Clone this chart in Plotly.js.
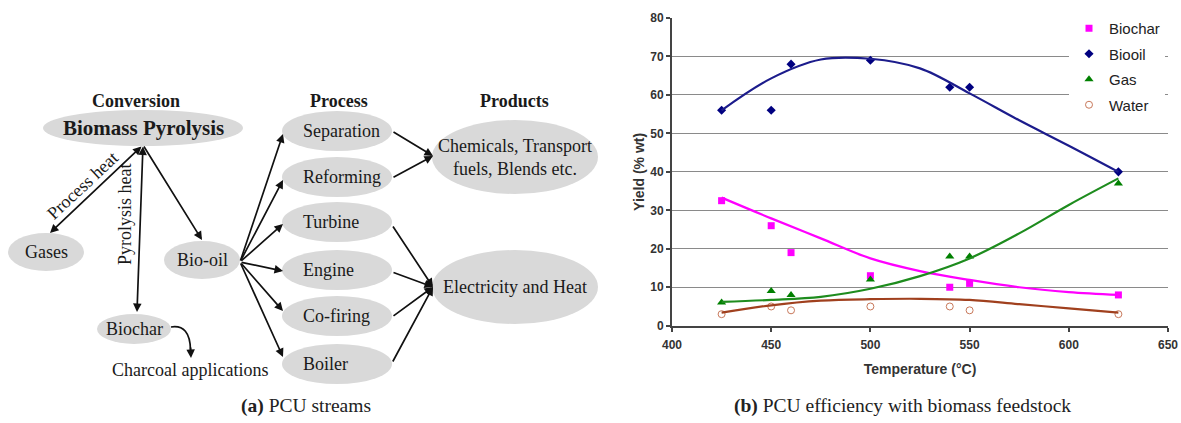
<!DOCTYPE html>
<html><head><meta charset="utf-8">
<script src="https://cdn.plot.ly/plotly-3.0.1.min.js"></script>
<style>html,body{margin:0;padding:0;background:#fff;} #chart{width:1181px;height:423px;}</style>
</head><body><div id="chart"></div>
<script>
// ---------- (b) chart data ----------
const temperature = [425, 450, 460, 500, 540, 550, 625];
const biocharYield = [32.5, 26, 19, 13, 10, 11, 8];
const biooilYield  = [56, 56, 68, 69, 62, 62, 40];
const gasYield     = [6, 9, 8, 12, 18, 18, 37];
const waterYield   = [3, 5, 4, 5, 5, 4, 3];
// trendlines
const trendTemperature = [425, 450, 475, 500, 525, 550, 575, 600, 625];
const biocharTrend = [33.3, 27.9, 22.7, 17.5, 14.2, 11.9, 10.0, 8.75, 8.0];
const biooilTrend  = [56, 64.3, 69.2, 69.4, 66.9, 60.4, 53.4, 46.8, 40];
const gasTrend     = [6.2, 6.7, 7.5, 9.6, 12.9, 17.5, 24.0, 31.4, 38.3];
const waterTrend   = [3.4, 5.3, 6.5, 6.9, 7.0, 6.7, 5.6, 4.5, 3.4];
const seriesNames = ['Biochar', 'Biooil', 'Gas', 'Water'];
const xTickValues = [400, 450, 500, 550, 600, 650];
const yTickValues = [0, 10, 20, 30, 40, 50, 60, 70, 80];
const xAxisTitle = 'Temperature (°C)';
const yAxisTitle = 'Yield (% wt)';

// ---------- (a) diagram labels ----------
const headerLabels = ['Conversion', 'Process', 'Products'];
const conversionLabel = 'Biomass Pyrolysis';
const streamLabels = ['Gases', 'Bio-oil', 'Biochar'];
const heatLabels = ['Process heat', 'Pyrolysis heat'];
const processLabels = ['Separation', 'Reforming', 'Turbine', 'Engine', 'Co-firing', 'Boiler'];
const productLabels = ['Chemicals, Transport<br>fuels, Blends etc.', 'Electricity and Heat'];
const charcoalLabel = 'Charcoal applications';
const captionLabels = ['<b>(a)</b> PCU streams', '<b>(b)</b> PCU efficiency with biomass feedstock'];

// ---------- diagram geometry (pixel space) ----------
const W = 1181, H = 423;
const geo = {
  headers: [[136, 101], [339, 101], [514, 101]],
  conv: {cx: 143, cy: 128, rx: 100, ry: 18},
  hub: [143, 145],
  streams: [{cx: 46, cy: 252, rx: 38, ry: 19}, {cx: 202, cy: 260, rx: 38, ry: 19}, {cx: 134, cy: 329, rx: 37, ry: 15}],
  procCx: 337, procRx: 55, procRy: 20, procTextX: 301,
  procCy: [131, 177, 222, 270, 316, 364],
  products: [{cx: 515, cy: 157, rx: 83, ry: 37}, {cx: 515, cy: 287, rx: 83, ry: 37}],
  heatText: [{x: 82, y: 186, a: -43}, {x: 125, y: 214, a: -90}],
  charcoal: [190, 370],
  captions: [[306, 406], [902, 406]]
};
const ELL = '#D9D9D9', INK = '#1a1a1a';
const serif = 'Liberation Serif, Times New Roman, serif';

const shapes = [];
const annotations = [];
function ellipse(e) {
  shapes.push({type: 'circle', xref: 'x2', yref: 'y2', x0: e.cx - e.rx, x1: e.cx + e.rx,
    y0: e.cy - e.ry, y1: e.cy + e.ry, fillcolor: ELL, line: {width: 0}, layer: 'below'});
}
function label(text, x, y, size, opts) {
  annotations.push(Object.assign({xref: 'x2', yref: 'y2', x: x, y: y, text: text, showarrow: false,
    font: {family: serif, size: size, color: INK}, xanchor: 'center', yanchor: 'middle'}, opts || {}));
}
function arrow(tail, head, both) {
  annotations.push({xref: 'x2', yref: 'y2', axref: 'x2', ayref: 'y2', x: head[0], y: head[1],
    ax: tail[0], ay: tail[1], text: '', showarrow: true, arrowhead: 2, startarrowhead: 2,
    arrowside: both ? 'end+start' : 'end', arrowsize: 1, startarrowsize: 1, arrowwidth: 1.7,
    arrowcolor: '#111', standoff: 0, startstandoff: 0});
}

// ellipses
ellipse(geo.conv);
geo.streams.forEach(ellipse);
geo.procCy.forEach(cy => ellipse({cx: geo.procCx, cy: cy, rx: geo.procRx, ry: geo.procRy}));
geo.products.forEach(ellipse);

// labels
headerLabels.forEach((t, i) => label('<b>' + t + '</b>', geo.headers[i][0], geo.headers[i][1], 18));
label('<b>' + conversionLabel + '</b>', geo.conv.cx, geo.conv.cy, 21);
streamLabels.forEach((t, i) => label(t, geo.streams[i].cx, geo.streams[i].cy, 18));
processLabels.forEach((t, i) => label(t, geo.procTextX, geo.procCy[i], 18, {xanchor: 'left'}));
productLabels.forEach((t, i) => label(t, geo.products[i].cx, geo.products[i].cy, 18));
heatLabels.forEach((t, i) => label(t, geo.heatText[i].x, geo.heatText[i].y, 18, {textangle: geo.heatText[i].a}));
label(charcoalLabel, geo.charcoal[0], geo.charcoal[1], 18);
captionLabels.forEach((t, i) => label(t, geo.captions[i][0], geo.captions[i][1], 19.5, {font: {family: serif, size: 19.5, color: '#222'}}));

// arrows
arrow(geo.hub, [50, 233], true);
arrow(geo.hub, [137, 312], true);
arrow(geo.hub, [202, 240], false);
const bioOilOut = [240, 262];
[134, 180, 224, 271, 311, 357].forEach(y => arrow(bioOilOut, [283, y], false));
[[392, 131], [392, 178]].forEach(t => arrow(t, [433, 156], false));
[[392, 225], [392, 272], [392, 317], [392, 363]].forEach(t => arrow(t, [433, 287], false));
shapes.push({type: 'path', xref: 'x2', yref: 'y2', path: 'M 171 327 Q 190 324 190.5 350', line: {color: '#111', width: 1.7}});
arrow([190.5, 346], [191, 358], false);

// ---------- traces ----------
const markerStyles = [
  {symbol: 'square', size: 7, color: '#FF00FF'},
  {symbol: 'diamond', size: 7, color: '#000080'},
  {symbol: 'triangle-up', size: 8, color: '#008000'},
  {symbol: 'circle-open', size: 7, color: '#C8785A', line: {width: 1, color: '#C8785A'}}
];
const yields = [biocharYield, biooilYield, gasYield, waterYield];
const trends = [biocharTrend, biooilTrend, gasTrend, waterTrend];
const trendColors = ['#FF00FF', '#1C1C8C', '#1E8C1E', '#A0401E'];

const traces = [];
seriesNames.forEach((n, i) => traces.push({type: 'scatter', mode: 'markers', name: n, legendgroup: 'g' + i,
  x: temperature, y: yields[i], marker: markerStyles[i], xaxis: 'x', yaxis: 'y', cliponaxis: false}));
seriesNames.forEach((n, i) => traces.push({type: 'scatter', mode: 'lines', name: n + ' trend', showlegend: false,
  legendgroup: 'g' + i,
  x: trendTemperature, y: trends[i], line: {color: trendColors[i], width: 2.2, shape: 'spline', smoothing: 1},
  xaxis: 'x', yaxis: 'y', hoverinfo: 'skip'}));
traces.push({type: 'scatter', x: [], y: [], xaxis: 'x2', yaxis: 'y2', showlegend: false});

const tickFont = {family: 'Liberation Sans, Arial, sans-serif', size: 12, color: '#333', weight: 'bold'};
const layout = {
  width: W, height: H, margin: {l: 0, r: 0, t: 0, b: 0},
  paper_bgcolor: '#fff', plot_bgcolor: 'rgba(0,0,0,0)',
  showlegend: true,
  xaxis: {domain: [672 / W, 1168 / W], range: [400, 650], anchor: 'y', tickvals: xTickValues,
    showgrid: false, zeroline: false, showline: true, linecolor: '#444', linewidth: 2,
    ticks: 'outside', ticklen: 4, tickwidth: 2, tickcolor: '#444', tickfont: tickFont, ticklabelstandoff: 3,
    title: {text: xAxisTitle, font: {family: 'Liberation Sans, Arial, sans-serif', size: 14, color: '#333', weight: 'bold'}, standoff: 13},
    fixedrange: true},
  yaxis: {domain: [1 - 325.7 / H, 1 - 18 / H], range: [0, 80], anchor: 'x', tickvals: yTickValues,
    showgrid: true, gridcolor: '#8a8a8a', gridwidth: 1, zeroline: false, showline: true, linecolor: '#444', linewidth: 2,
    ticks: 'outside', ticklen: 4, tickwidth: 2, tickcolor: '#444', tickfont: tickFont,
    title: {text: yAxisTitle, font: {family: 'Liberation Sans, Arial, sans-serif', size: 14, color: '#333', weight: 'bold'}, standoff: 2},
    fixedrange: true},
  xaxis2: {domain: [0, 1], range: [0, W], anchor: 'y2', visible: false, fixedrange: true},
  yaxis2: {domain: [0, 1], range: [H, 0], anchor: 'x2', visible: false, fixedrange: true},
  legend: {x: 1069 / W, y: 1 - 12 / H, xanchor: 'left', yanchor: 'top', bgcolor: '#fff', borderwidth: 0,
    traceorder: 'grouped', tracegroupgap: 3,
    font: {family: 'Liberation Sans, Arial, sans-serif', size: 15, color: '#222'}, itemwidth: 30},
  shapes: shapes,
  annotations: annotations
};
Plotly.newPlot('chart', traces, layout, {displayModeBar: false, staticPlot: true});
</script></body></html>
